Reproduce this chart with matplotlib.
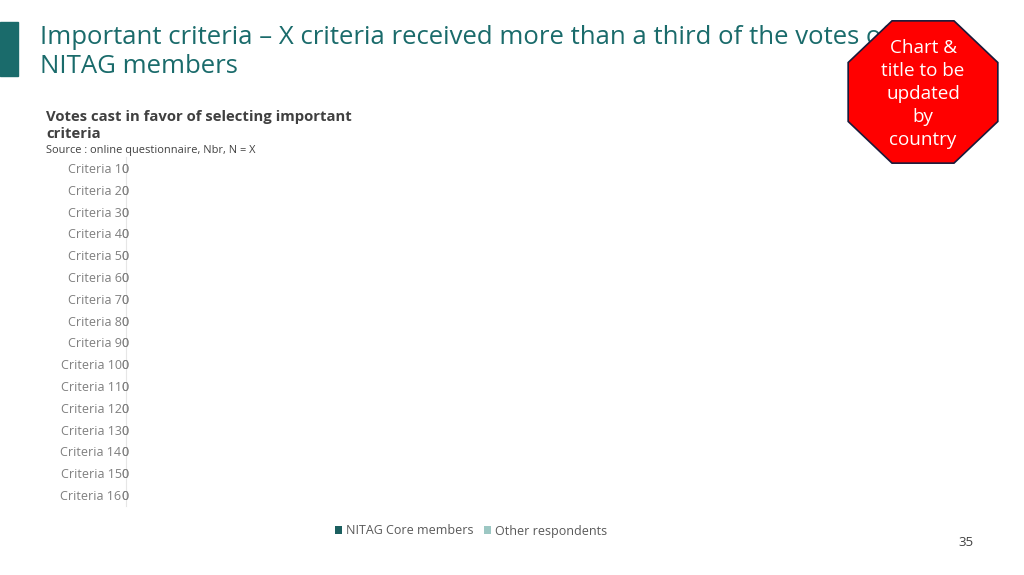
import numpy as np
import matplotlib
matplotlib.use("Agg")
import matplotlib.pyplot as plt
from matplotlib.patches import Rectangle, Polygon

plt.rcParams['font.family'] = ['Open Sans', 'DejaVu Sans']

criteria = ["Criteria %d" % i for i in range(1, 17)]
core_members = [0] * 16
other_respondents = [0] * 16
series_names = ["NITAG Core members", "Other respondents"]
colors = ["#1b5f5f", "#9cc7c3"]

teal = "#1a6b6b"

fig = plt.figure(figsize=(10.24, 5.75), dpi=100)
W, H = 1024, 575

def fx(px):
    return px / W

def fy(py):
    return 1 - py / H

# bandeau de titre
fig.patches.append(Rectangle((0, fy(76)), fx(18), fy(22) - fy(76),
                             transform=fig.transFigure, color=teal, zorder=1))
fig.text(fx(40), fy(37), "Important criteria \u2013 X criteria received more than a third of the votes of",
         fontsize=18.5, color=teal, va="center", ha="left", zorder=2)
fig.text(fx(40), fy(67), "NITAG members", fontsize=18.5, color=teal, va="center", ha="left", zorder=2)

# titre du graphique
fig.text(fx(46), fy(117), "Votes cast in favor of selecting important", fontsize=10.7,
         fontweight="bold", color="#404040", va="center")
fig.text(fx(46), fy(134), "criteria", fontsize=10.7, fontweight="bold", color="#404040", va="center")
fig.text(fx(46), fy(150), "Source : online questionnaire, Nbr, N = X", fontsize=7.9,
         color="#404040", va="center")

ax = fig.add_axes([fx(126), fy(506), fx(980) - fx(126), fy(157) - fy(506)])
y = np.arange(len(criteria))
ax.barh(y, core_members, color=colors[0], label=series_names[0], height=0.6)
ax.barh(y, other_respondents, left=core_members, color=colors[1], label=series_names[1], height=0.6)
for i, (a, b) in enumerate(zip(core_members, other_respondents)):
    for xv, v in [(a / 2, a), (a + b / 2, b)]:
        ax.annotate(str(v), (xv, i), xytext=(-1, 0), textcoords="offset pixels",
                    ha="center", va="center_baseline", fontsize=9, color="#7f7f7f")

ax.set_yticks(y)
ax.set_yticklabels(criteria, fontsize=9, color="#7f7f7f")
ax.tick_params(axis="y", length=0, pad=3.2)
ax.set_xticks([])
ax.set_xlim(0, 1)
ax.set_ylim(len(criteria) - 0.5, -0.5)
for s in ["top", "right", "bottom"]:
    ax.spines[s].set_visible(False)
ax.spines["left"].set_color("#e6e6e6")
ax.set_facecolor("none")

leg = fig.legend(loc="center", bbox_to_anchor=(fx(471), fy(531)), ncol=2, frameon=False,
                 fontsize=9, handlelength=0.6, handleheight=0.6, handletextpad=0.3,
                 columnspacing=0.8, labelcolor="#595959")

# panneau stop
cx, cy, rx, ry = 923, 92, 81, 77
angles = np.deg2rad(np.arange(8) * 45 + 22.5)
pts = [(fx(cx + rx * np.cos(t)), fy(cy + ry * np.sin(t))) for t in angles]
fig.patches.append(Polygon(pts, closed=True, transform=fig.transFigure,
                           facecolor="#ff0000", edgecolor="#1a1a3a", linewidth=1.2, zorder=5))
fig.text(fx(cx), fy(cy + 2), "Chart &\ntitle to be\nupdated\nby\ncountry", fontsize=13.6, color="white",
         ha="center", va="center", linespacing=1.36, zorder=6)

fig.text(fx(966), fy(542), "35", fontsize=9.5, color="#404040", ha="center", va="center")

plt.savefig("out.png", dpi=100)
plt.close()
